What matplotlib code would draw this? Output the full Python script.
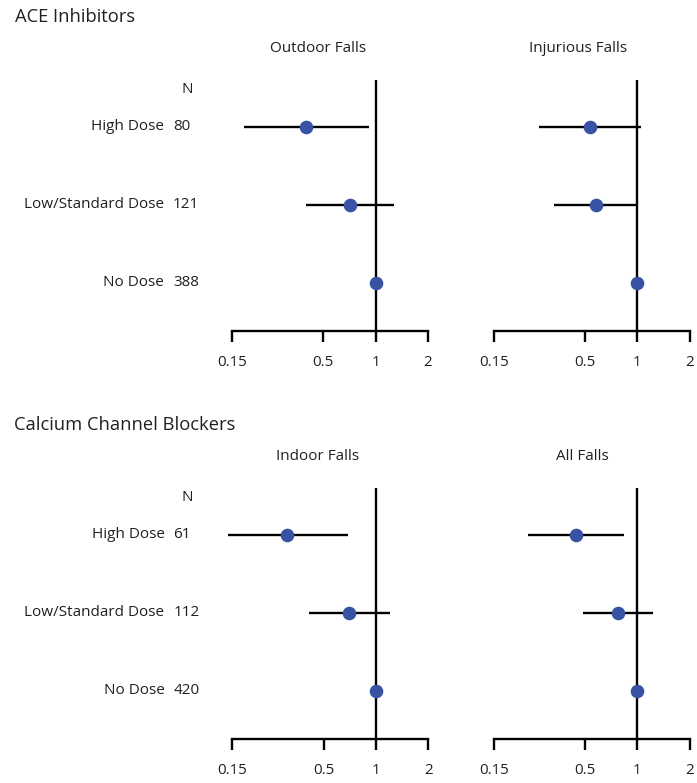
import numpy as np
import matplotlib
matplotlib.use("Agg")
import matplotlib.pyplot as plt

# ---------------- data ----------------
groups = ["High Dose", "Low/Standard Dose", "No Dose"]
ace_n = [80, 121, 388]
ccb_n = [61, 112, 420]

outdoor_or = [0.40, 0.71, 1.0]
outdoor_lo = [0.176, 0.40, np.nan]
outdoor_hi = [0.92, 1.27, np.nan]

injurious_or = [0.535, 0.58, 1.0]
injurious_lo = [0.273, 0.334, np.nan]
injurious_hi = [1.05, 1.0, np.nan]

indoor_or = [0.31, 0.70, 1.0]
indoor_lo = [0.141, 0.41, np.nan]
indoor_hi = [0.695, 1.20, np.nan]

allfalls_or = [0.443, 0.772, 1.0]
allfalls_lo = [0.235, 0.486, np.nan]
allfalls_hi = [0.839, 1.236, np.nan]

xticks = [0.15, 0.5, 1, 2]
xtick_labels = ["0.15", "0.5", "1", "2"]

# ---------------- style ----------------
FONT = ["Open Sans", "DejaVu Sans"]
plt.rcParams['font.family'] = FONT
TXT = "#231f20"
DOT = "#3953a4"
LW = 1.7
FS = 11

W, H = 697, 783
fig = plt.figure(figsize=(W / 100, H / 100), dpi=100)

K = 174.2           # pixels per decade
XMIN, XMAX = 0.13, 2.2
ROW = 78.0          # pixels per row


def make_ax(x_one, y_top, y_axis):
    left = x_one + K * np.log10(XMIN)
    right = x_one + K * np.log10(XMAX)
    ax = fig.add_axes([left / W, 1 - y_axis / H, (right - left) / W, (y_axis - y_top) / H])
    ax.set_xscale('log')
    ax.set_xlim(XMIN, XMAX)
    ybot = -48 / ROW
    ax.set_ylim(ybot, ybot + (y_axis - y_top) / ROW)
    for s in ['top', 'right', 'left']:
        ax.spines[s].set_visible(False)
    ax.spines['bottom'].set_linewidth(LW)
    ax.spines['bottom'].set_bounds(0.15, 2)
    ax.set_xticks(xticks)
    ax.set_xticklabels(xtick_labels)
    ax.xaxis.set_minor_locator(matplotlib.ticker.NullLocator())
    ax.tick_params(axis='x', direction='out', length=8, width=LW, pad=9.5,
                   labelsize=10.8, labelcolor=TXT)
    ax.set_yticks([])
    ax.patch.set_visible(False)
    ax.axvline(1, color='black', lw=LW, zorder=1)
    return ax


def draw(ax, orv, lo, hi):
    y = [2, 1, 0]
    for yi, o, l, h in zip(y, orv, lo, hi):
        if not np.isnan(l):
            ax.plot([l, h], [yi, yi], color='black', lw=LW, zorder=2, solid_capstyle='butt')
        ax.plot([o], [yi], 'o', color=DOT, ms=9.8, mew=0, zorder=3, clip_on=False)


def labels(ax, ns):
    tr = ax.get_yaxis_transform()
    left_px = 375.5 + K * np.log10(XMIN)
    width_px = K * (np.log10(XMAX) - np.log10(XMIN))
    xl = (164 - left_px) / width_px
    xn = (173 - left_px) / width_px
    xN = (187 - left_px) / width_px
    for yi, g, n in zip([2, 1, 0], groups, ns):
        ax.text(xl, yi, g, transform=tr, ha='right', va='center', fontsize=FS, color=TXT)
        ax.text(xn, yi, str(n), transform=tr, ha='left', va='center', fontsize=FS, color=TXT)
    ax.text(xN, 2 + 37.5 / ROW, "N", transform=tr, ha='center', va='center', fontsize=FS, color=TXT)


a1 = make_ax(375.5, 80, 331)
a2 = make_ax(637.3, 80, 331)
a3 = make_ax(376.0, 488, 739)
a4 = make_ax(637.3, 488, 739)

draw(a1, outdoor_or, outdoor_lo, outdoor_hi)
draw(a2, injurious_or, injurious_lo, injurious_hi)
draw(a3, indoor_or, indoor_lo, indoor_hi)
draw(a4, allfalls_or, allfalls_lo, allfalls_hi)

labels(a1, ace_n)
labels(a3, ccb_n)


def ftext(xp, yp, s, **kw):
    fig.text(xp / W, 1 - yp / H, s, color=TXT, **kw)


ftext(15, 17, "ACE Inhibitors", ha='left', va='center', fontsize=13.2)
ftext(14, 425, "Calcium Channel Blockers", ha='left', va='center', fontsize=13.2)
ftext(318, 49, "Outdoor Falls", ha='center', va='center', fontsize=FS)
ftext(578, 49, "Injurious Falls", ha='center', va='center', fontsize=FS)
ftext(318, 457, "Indoor Falls", ha='center', va='center', fontsize=FS)
ftext(582, 457, "All Falls", ha='center', va='center', fontsize=FS)

fig.savefig("out.png", dpi=100, facecolor='white')
